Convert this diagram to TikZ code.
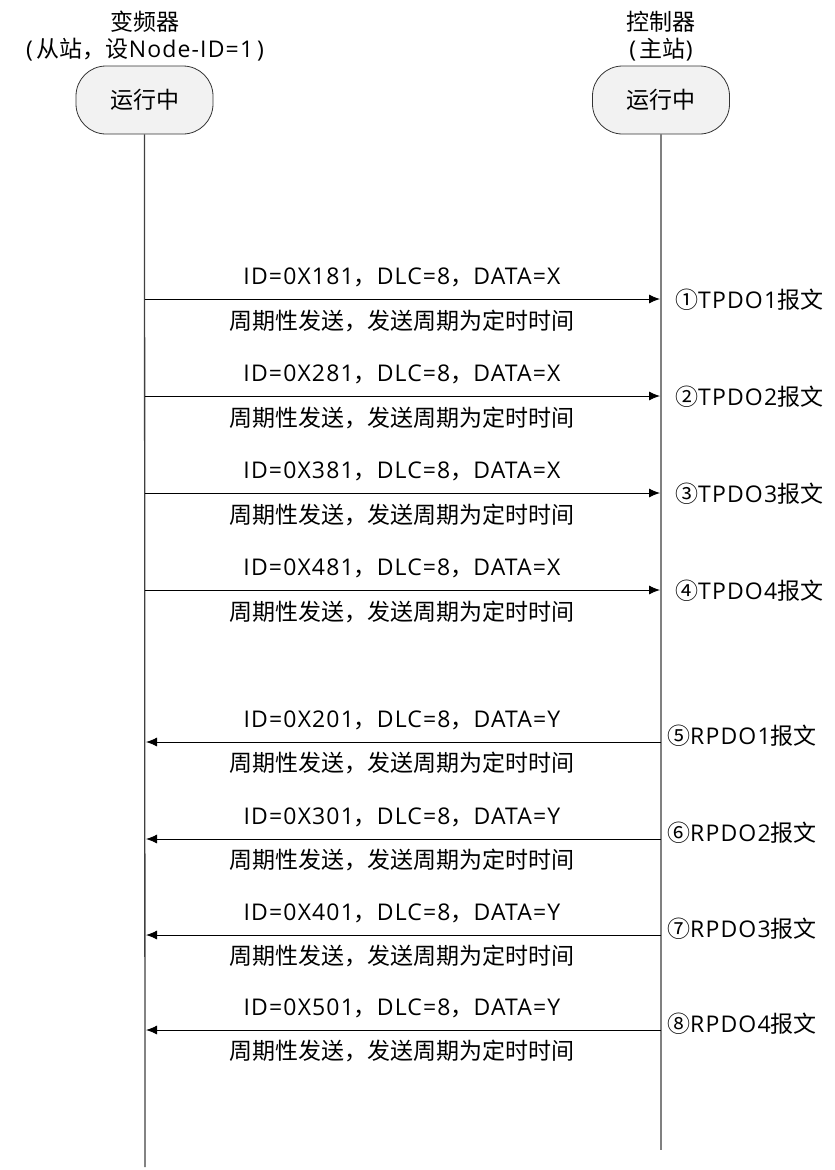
\documentclass[tikz,border=0pt]{standalone}
\usepackage{fontspec}
\setmainfont{Open Sans}[LetterSpace=5]
\newfontfamily\cjk{Noto Sans CJK SC}
\usetikzlibrary{arrows.meta}
\definecolor{boxfill}{HTML}{F2F2F2}
\definecolor{lifegray}{HTML}{808080}
\tikzset{
  txt/.style={font=\fontsize{23}{26}\selectfont, inner sep=0pt, text=black},
  statebox/.style={draw=black!80, fill=boxfill, rounded corners=30pt, minimum width=137pt, minimum height=68pt, line width=0.8pt, font=\fontsize{23}{26}\selectfont},
  lifeline/.style={draw=lifegray, line width=1.3pt},
  msg/.style={draw=black, line width=0.9pt, -{Latex[length=11pt,width=9pt]}},
}
\begin{document}
\begin{tikzpicture}[x=1pt,y=-1pt]
\useasboundingbox (0,0) rectangle (835,1170);
% headers
\node[txt] (lt1) at (145,22) {\cjk 变频器};
\node[txt] (lt2) at (145,50) {(\,{\cjk 从站，设}Node-ID=1\,)};
\node[txt] (rt1) at (661,22) {\cjk 控制器};
\node[txt] (rt2) at (661,50) {(\,{\cjk 主站})};
% state boxes
\node[statebox] (lbox) at (144.5,100) {\cjk 运行中};
\node[statebox] (rbox) at (661,100) {\cjk 运行中};
% lifelines
\coordinate (lend) at (145,1167);
\coordinate (rend) at (661,1150);
\draw[lifeline, draw=black!75] (lbox.south) -- (lend);
\draw[lifeline] (rbox.south) -- (rend);
% TPDO messages
\foreach \y/\id/\num/\k/\n in {299/181/①/1/1, 396/281/②/2/2, 493/381/③/3/3, 590/481/④/4/4}{
  \coordinate (ts\n) at (145,\y);
  \coordinate (te\n) at (660,\y);
  \draw[msg] (ts\n) -- (te\n);
  \node[txt] (tu\n) at (402,\y-22) {ID=0X\id{\cjk ，}DLC=8{\cjk ，}DATA=X};
  \node[txt] (tb\n) at (402,\y+22) {\cjk 周期性发送，发送周期为定时时间};
  \node[txt, anchor=west] (tl\n) at (675,\y+1) {{\cjk \num}TPDO\k{\cjk 报文}};
}
% RPDO messages
\foreach \y/\id/\num/\k/\n in {742/201/⑤/1/5, 839/301/⑥/2/6, 935/401/⑦/3/7, 1030/501/⑧/4/8}{
  \coordinate (rs\n) at (661,\y);
  \coordinate (re\n) at (146,\y);
  \draw[msg] (rs\n) -- (re\n);
  \node[txt] (ru\n) at (402,\y-22) {ID=0X\id{\cjk ，}DLC=8{\cjk ，}DATA=Y};
  \node[txt] (rb\n) at (402,\y+21) {\cjk 周期性发送，发送周期为定时时间};
  \node[txt, anchor=west] (rl\n) at (667,\y-6) {{\cjk \num}RPDO\k{\cjk 报文}};
}
\end{tikzpicture}
\end{document}
